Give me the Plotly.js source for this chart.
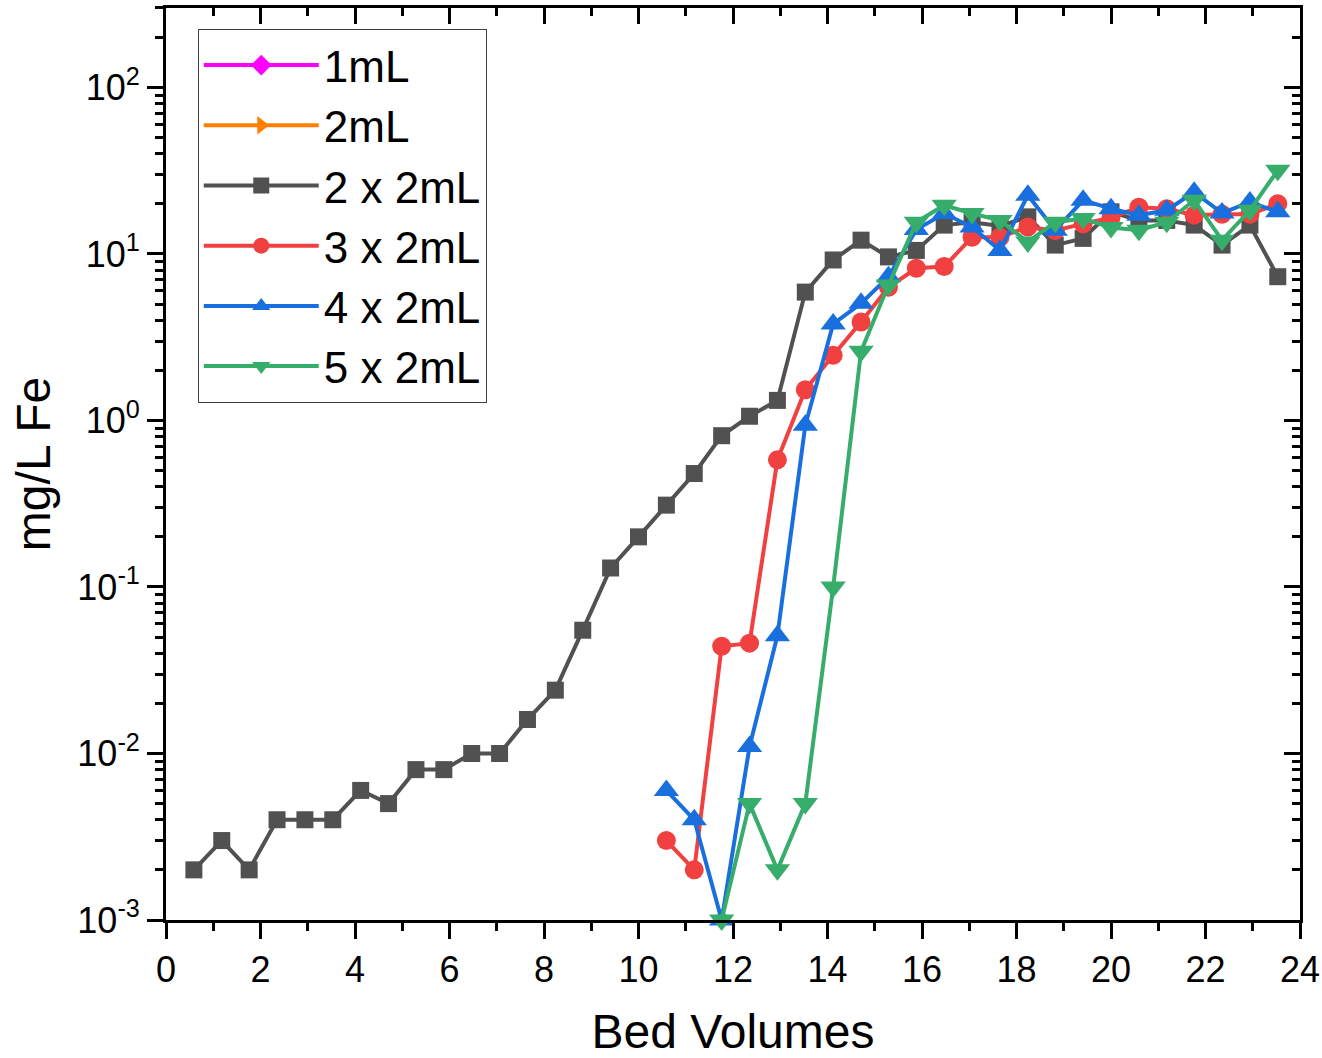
<!DOCTYPE html>
<html><head><meta charset="utf-8">
<script src="https://cdn.plot.ly/plotly-3.0.1.min.js"></script>
<style>html,body{margin:0;padding:0;background:#fff}#chart{width:1322px;height:1058px}</style>
</head><body><div id="chart"></div>
<script>
// Bed volumes (x) and Fe concentrations (mg/L) for each series
const bv_1mL = [null];
const fe_1mL = [null];
const bv_2mL = [null];
const fe_2mL = [null];
const bv_2x2mL = [0.59,1.18,1.76,2.35,2.94,3.53,4.12,4.71,5.29,5.88,6.47,7.06,7.65,8.24,8.82,9.41,10.00,10.59,11.18,11.76,12.35,12.94,13.53,14.12,14.71,15.29,15.88,16.47,17.06,17.65,18.24,18.82,19.41,20.00,20.59,21.18,21.76,22.35,22.94,23.53];
const fe_2x2mL = [0.002,0.003,0.002,0.004,0.004,0.004,0.006,0.005,0.008,0.008,0.010,0.010,0.016,0.024,0.055,0.13,0.20,0.31,0.48,0.81,1.06,1.32,5.9,9.2,12.1,9.6,10.5,14.9,15.5,14.7,16.7,11.3,12.4,17.9,15.9,15.9,14.9,11.3,14.9,7.3];
const bv_3x2mL = [10.59,11.18,11.76,12.35,12.94,13.53,14.12,14.71,15.29,15.88,16.47,17.06,17.65,18.24,18.82,19.41,20.00,20.59,21.18,21.76,22.35,22.94,23.53];
const fe_3x2mL = [0.003,0.002,0.044,0.046,0.58,1.53,2.46,3.9,6.3,8.2,8.4,12.6,12.6,14.5,13.8,15.2,16.5,19.1,18.7,17.1,17.3,17.3,20.0];
const bv_4x2mL = [10.59,11.18,11.76,12.35,12.94,13.53,14.12,14.71,15.29,15.88,16.47,17.06,17.65,18.24,18.82,19.41,20.00,20.59,21.18,21.76,22.35,22.94,23.53];
const fe_4x2mL = [0.006,0.004,0.001,0.011,0.051,0.935,3.8,5.05,7.3,14.0,17.5,14.5,10.5,22.5,13.9,21.0,18.7,17.1,18.3,23.5,17.6,20.5,17.9];
const bv_5x2mL = [11.76,12.35,12.94,13.53,14.12,14.71,15.29,15.88,16.47,17.06,17.65,18.24,18.82,19.41,20.00,20.59,21.18,21.76,22.35,22.94,23.53];
const fe_5x2mL = [0.001,0.005,0.002,0.005,0.1,2.6,6.5,15.5,19.6,17.5,15.9,11.8,15.5,16.3,14.4,13.9,15.5,21.0,12.1,18.3,31.8];

const seriesNames = ['1mL','2mL','2 x 2mL','3 x 2mL','4 x 2mL','5 x 2mL'];
const seriesColors = ['#FF00FF','#FF8000','#515151','#F14040','#1A6FDF','#37AD6B'];
const seriesSymbols = ['diamond','triangle-right','square','circle','triangle-up','triangle-down'];
const seriesSizes = [19,22,17,19,22,22];
const xs = [bv_1mL,bv_2mL,bv_2x2mL,bv_3x2mL,bv_4x2mL,bv_5x2mL];
const ys = [fe_1mL,fe_2mL,fe_2x2mL,fe_3x2mL,fe_4x2mL,fe_5x2mL];

// y-axis tick labels
const yTickVals = [0.001,0.01,0.1,1,10,100];
const yTickText = ['10<sup>-3</sup>','10<sup>-2</sup>','10<sup>-1</sup>','10<sup>0</sup>','10<sup>1</sup>','10<sup>2</sup>'];

const FONT = 'Liberation Sans, Arial, Helvetica, sans-serif';

const traces = seriesNames.map((n,i)=>({
  type:'scatter', mode:'lines+markers', name:n,
  x: xs[i], y: ys[i],
  line:{color:seriesColors[i], width:4},
  marker:{color:seriesColors[i], symbol:seriesSymbols[i], size:seriesSizes[i], line:{width:0}},
  cliponaxis:false
}));
// empty helper trace so the mirrored (top / right) frame axes are drawn
traces.push({type:'scatter', mode:'markers', x:[null], y:[null], xaxis:'x2', yaxis:'y2', showlegend:false, hoverinfo:'skip'});

const tickCommon = {
  showgrid:false, zeroline:false, showline:true, linecolor:'#000', linewidth:3,
  tickcolor:'#000', tickwidth:3
};

const layout = {
  width:1322, height:1058,
  margin:{l:166, r:22, t:8, b:138},
  paper_bgcolor:'#fff', plot_bgcolor:'#fff',
  font:{family:FONT, color:'#000'},
  showlegend:true,
  legend:{x:0.028, y:0.977, xanchor:'left', yanchor:'top',
    font:{family:FONT, size:44, color:'#000'},
    bgcolor:'#fff', bordercolor:'#404040', borderwidth:1, itemwidth:115, tracegroupgap:0},
  xaxis:Object.assign({}, tickCommon, {
    range:[0,24], dtick:2, tick0:0, ticks:'outside', ticklen:16,
    tickfont:{family:FONT, size:36},
    minor:{dtick:1, ticks:'outside', ticklen:8, tickwidth:3, tickcolor:'#000'},
    title:{text:'Bed Volumes', font:{family:FONT, size:48}, standoff:45}
  }),
  xaxis2:Object.assign({}, tickCommon, {
    range:[0,24], dtick:2, tick0:0, ticks:'inside', ticklen:16, overlaying:'x', side:'top', anchor:'y2',
    showticklabels:false,
    minor:{dtick:1, ticks:'inside', ticklen:8, tickwidth:3, tickcolor:'#000'}
  }),
  yaxis:Object.assign({}, tickCommon, {
    type:'log', range:[-3,2.477], tickmode:'array', tickvals:yTickVals, ticktext:yTickText,
    ticks:'outside', ticklen:16,
    tickfont:{family:FONT, size:36},
    minor:{dtick:'D1', ticks:'outside', ticklen:8, tickwidth:3, tickcolor:'#000'},
    title:{text:'mg/L Fe', font:{family:FONT, size:48}, standoff:12}
  }),
  yaxis2:Object.assign({}, tickCommon, {
    type:'log', range:[-3,2.477], dtick:1, ticks:'inside', ticklen:16, overlaying:'y', side:'right', anchor:'x2',
    showticklabels:false,
    minor:{dtick:'D1', ticks:'inside', ticklen:8, tickwidth:3, tickcolor:'#000'}
  })
};

Plotly.newPlot('chart', traces, layout, {displayModeBar:false, staticPlot:true});
</script>
</body></html>
